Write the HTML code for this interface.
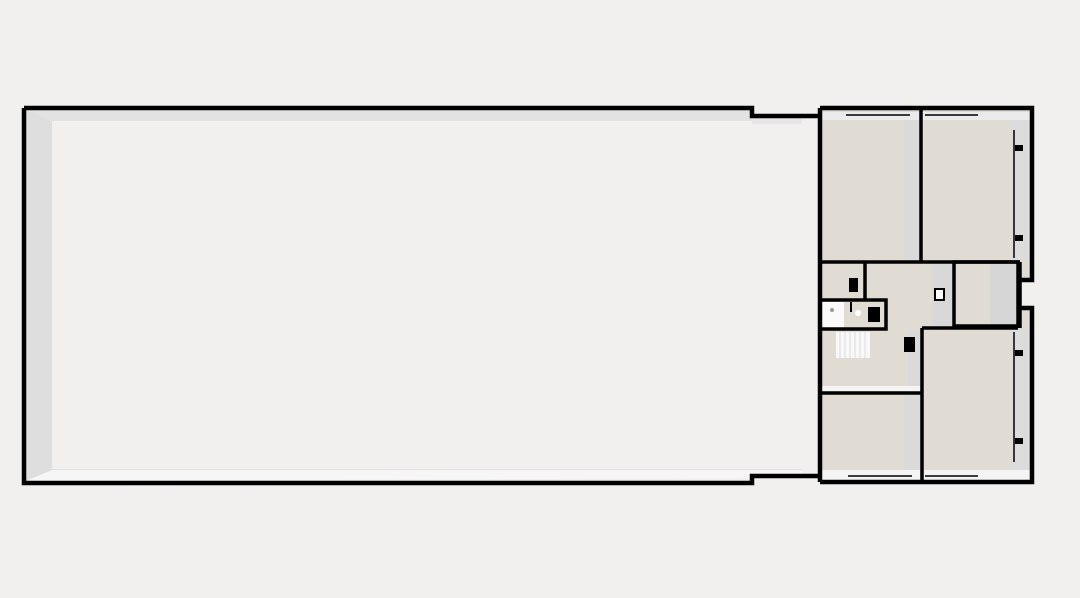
<!DOCTYPE html>
<html><head><style>body{margin:0;background:#f1f0ee}svg{display:block}</style></head><body>
<svg width="1080" height="598" viewBox="0 0 1080 598" xmlns="http://www.w3.org/2000/svg">
<rect width="1080" height="598" fill="#f1f0ee"/>
<polygon points="26,110 752,110 752,120 802,120 802,470 752,470 52,470 52,120 26,110" fill="#e2e2e2"/>
<polygon points="26,110 52,120 52,470 26,481" fill="#dedede"/>
<rect x="52" y="121" width="750" height="348" fill="#f1f0ee"/>
<rect x="752" y="118" width="50" height="6" fill="#e6e6e6"/>
<polygon points="52,470 802,470 802,478 26,481" fill="#f6f6f6"/>
<rect x="820" y="108" width="212" height="374" fill="#e0dcd3"/>
<rect x="904" y="110" width="16" height="150" fill="#dadada"/>
<rect x="1010" y="110" width="20" height="150" fill="#dcdcdc"/>
<rect x="1010" y="330" width="20" height="150" fill="#dcdcdc"/>
<rect x="904" y="394" width="18" height="86" fill="#dadada"/>
<rect x="908" y="330" width="14" height="62" fill="#dadada"/>
<rect x="932" y="262" width="20" height="64" fill="#d8d8d8"/>
<rect x="990" y="264" width="26" height="62" fill="#d6d6d6"/>
<rect x="1022" y="282" width="12" height="24" fill="#f1f0ee"/>
<rect x="820" y="112" width="100" height="8" fill="#ebebeb"/>
<rect x="922" y="112" width="108" height="8" fill="#ebebeb"/>
<rect x="820" y="470" width="100" height="12" fill="#f4f4f4"/>
<rect x="924" y="470" width="106" height="12" fill="#f4f4f4"/>
<rect x="822" y="386" width="98" height="6" fill="#f4f4f4"/>
<rect x="822" y="302" width="22" height="26" fill="#fafafa"/>
<circle cx="832" cy="310" r="2" fill="#999"/>
<circle cx="858" cy="313" r="3" fill="#fff"/>
<rect x="836" y="332" width="34" height="26" fill="#f8f8f8"/>
<g stroke="#ddd" stroke-width="1"><line x1="840" y1="332" x2="840" y2="358"/><line x1="845" y1="332" x2="845" y2="358"/><line x1="850" y1="332" x2="850" y2="358"/><line x1="855" y1="332" x2="855" y2="358"/><line x1="860" y1="332" x2="860" y2="358"/><line x1="865" y1="332" x2="865" y2="358"/></g>
<path d="M24,108 H752 V116 H818 M24,108 V483 H752 V476 H818" fill="none" stroke="#000" stroke-width="4.5"/>
<path d="M820,108 H1032 V280 H1020 M1020,308 H1032 V482 H820 M820,108 V482" fill="none" stroke="#000" stroke-width="4.5"/>
<g stroke="#000" stroke-width="3.5" fill="none">
<line x1="921" y1="108" x2="921" y2="262"/>
<line x1="820" y1="262" x2="1020" y2="262"/>
<rect x="954" y="262" width="64" height="64"/>
<line x1="1020" y1="262" x2="1020" y2="328"/>
<line x1="865" y1="262" x2="865" y2="300"/>
<rect x="820" y="300" width="66" height="29"/>
<line x1="922" y1="328" x2="1018" y2="328"/>
<line x1="922" y1="328" x2="922" y2="482"/>
<line x1="820" y1="393" x2="922" y2="393"/>
</g>
<line x1="851" y1="302" x2="851" y2="312" stroke="#000" stroke-width="2"/>
<g stroke="#000" stroke-width="1.5"><line x1="846" y1="115" x2="910" y2="115"/><line x1="925" y1="115" x2="978" y2="115"/><line x1="848" y1="476" x2="912" y2="476"/><line x1="925" y1="476" x2="978" y2="476"/><line x1="1014" y1="130" x2="1014" y2="258"/><line x1="1014" y1="332" x2="1014" y2="462"/></g>
<g fill="#000"><rect x="1015" y="145" width="8" height="6"/><rect x="1015" y="235" width="8" height="6"/><rect x="1015" y="350" width="8" height="6"/><rect x="1015" y="438" width="8" height="6"/>
<rect x="849" y="278" width="9" height="14"/><rect x="868" y="307" width="12" height="15"/><rect x="904" y="337" width="11" height="15"/></g>
<rect x="935" y="289" width="9" height="11" fill="#fff" stroke="#000" stroke-width="2"/>
</svg>
</body></html>
